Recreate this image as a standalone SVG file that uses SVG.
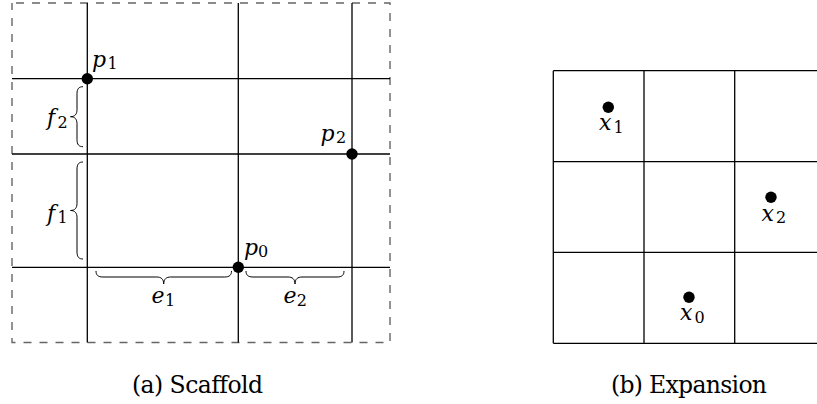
<svg xmlns="http://www.w3.org/2000/svg" width="817" height="404" viewBox="0 0 817 404">
<style>
.ln{stroke:#000;stroke-width:1.3;fill:none}
.frame{stroke:#666;stroke-width:1.4;fill:none;stroke-dasharray:8 8;stroke-dashoffset:-4}
.br{stroke:#000;stroke-width:1;fill:none}
.dot{fill:#000}
.m{font-family:'DejaVu Serif',serif;font-style:italic;font-size:22px;fill:#000}
.s{font-style:normal;font-size:16px}
.cap{font-family:'DejaVu Serif',serif;font-size:23.5px;fill:#000;text-anchor:middle}
</style>
<rect id="scaffold-frame" class="frame" x="12" y="3" width="378" height="339.5"/>
<g id="connectors">
<g id="scaffold-lines" class="ln">
<line x1="87.3" y1="3" x2="87.3" y2="342.5"/>
<line x1="238.3" y1="3" x2="238.3" y2="342.5"/>
<line x1="352" y1="3" x2="352" y2="342.5"/>
<line x1="12" y1="78.7" x2="390" y2="78.7"/>
<line x1="12" y1="154" x2="390" y2="154"/>
<line x1="12" y1="267.3" x2="390" y2="267.3"/>
</g>
<g id="expansion-grid" class="ln">
<line x1="553.3" y1="70.7" x2="553.3" y2="343.3"/>
<line x1="644" y1="70.7" x2="644" y2="343.3"/>
<line x1="734.7" y1="70.7" x2="734.7" y2="343.3"/>
<line x1="553.3" y1="70.7" x2="817" y2="70.7"/>
<line x1="553.3" y1="161.7" x2="817" y2="161.7"/>
<line x1="553.3" y1="252.3" x2="817" y2="252.3"/>
<line x1="553.3" y1="343.3" x2="817" y2="343.3"/>
</g>
</g>
<g id="brace-f2">
<path class="br" d="M83,86.7 C79,86.7 77,88.7 77,93.7 L77,109.7 C77,114 75,116.7 70.5,116.7 C75,116.7 77,119.4 77,123.7 L77,139.7 C77,144.7 79,146.7 83,146.7"/>
<text class="m" x="47" y="125">f<tspan class="s" x="57.5" y="127.5">2</tspan></text>
</g>
<g id="brace-f1">
<path class="br" d="M83,162 C79,162 77,164 77,169 L77,203.5 C77,207.8 75,210.5 70.5,210.5 C75,210.5 77,213.2 77,217.5 L77,252 C77,257 79,259 83,259"/>
<text class="m" x="47" y="220.5">f<tspan class="s" x="57.5" y="222.5">1</tspan></text>
</g>
<g id="brace-e1">
<path class="br" d="M96,271 C96,275 98,277 103,277 L156.7,277 C161,277 163.7,279 163.7,284 C163.7,279 166.4,277 170.7,277 L224.5,277 C229.5,277 231.5,275 231.5,271"/>
<text class="m" x="151.5" y="303">e<tspan class="s" x="165" y="305.5">1</tspan></text>
</g>
<g id="brace-e2">
<path class="br" d="M246,271 C246,275 248,277 253,277 L288,277 C292.3,277 295,279 295,284 C295,279 297.7,277 302,277 L337,277 C342,277 344,275 344,271"/>
<text class="m" x="283.5" y="303">e<tspan class="s" x="296.7" y="305.5">2</tspan></text>
</g>
<g id="p1">
<circle class="dot" cx="87.3" cy="78.7" r="5.7"/>
<text class="m" x="92" y="66.5">p<tspan class="s" x="107.5" y="68.5">1</tspan></text>
</g>
<g id="p2">
<circle class="dot" cx="352" cy="154" r="5.7"/>
<text class="m" x="320.5" y="141">p<tspan class="s" x="336" y="143">2</tspan></text>
</g>
<g id="p0">
<circle class="dot" cx="238.3" cy="267.3" r="5.7"/>
<text class="m" x="244" y="255">p<tspan class="s" x="258" y="257">0</tspan></text>
</g>
<g id="x1">
<circle class="dot" cx="608.3" cy="107.3" r="5.7"/>
<text class="m" x="599" y="130">x<tspan class="s" x="613.5" y="133">1</tspan></text>
</g>
<g id="x2">
<circle class="dot" cx="771" cy="197.3" r="5.7"/>
<text class="m" x="761.5" y="220.5">x<tspan class="s" x="776" y="223">2</tspan></text>
</g>
<g id="x0">
<circle class="dot" cx="689" cy="297.3" r="5.7"/>
<text class="m" x="680" y="320">x<tspan class="s" x="694.5" y="323">0</tspan></text>
</g>
<g id="captions">
<text class="cap" x="197.5" y="393" textLength="131" lengthAdjust="spacing">(a) Scaffold</text>
<text class="cap" x="689" y="393" textLength="156" lengthAdjust="spacing">(b) Expansion</text>
</g>
</svg>
